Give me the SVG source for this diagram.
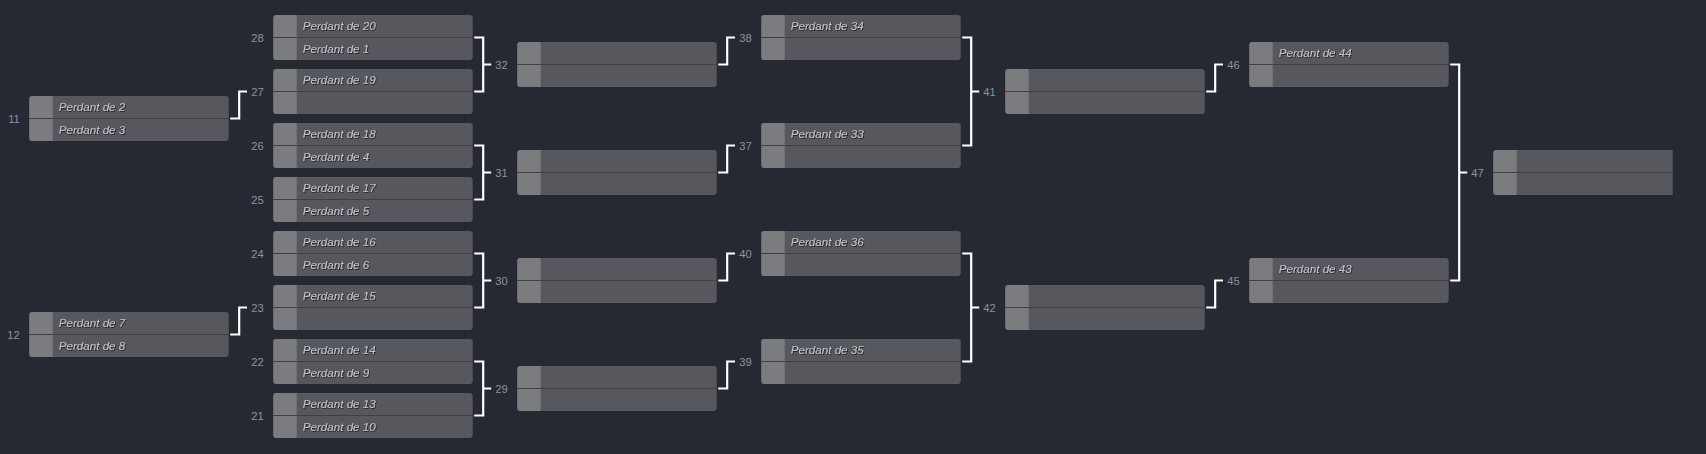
<svg xmlns="http://www.w3.org/2000/svg" xmlns:xlink="http://www.w3.org/1999/xlink" width="1706" height="454" viewBox="0 0 1706 454">
<style>
.p{font-family:"Liberation Sans",Arial,sans-serif;font-style:italic;font-size:11.6px;fill:#c3c3c6;filter:url(#sh)}
.n{font-family:"Liberation Sans",Arial,sans-serif;font-size:11.2px;fill:#8d94a0;text-anchor:end}
.c{fill:none;stroke:#ffffff;stroke-width:2.2}
</style>
<defs>
<filter id="sh" x="-5%" y="-30%" width="115%" height="160%">
<feDropShadow dx="0.8" dy="0.8" stdDeviation="0.3" flood-color="#1b1c20" flood-opacity="1"/>
</filter>
<g id="box">
<rect width="199.4" height="45" rx="3" fill="#57585d"/>
<path d="M3,0H23.4V45H3A3,3 0 0 1 0,42V3A3,3 0 0 1 3,0Z" fill="#7b7c80"/>
<rect y="22" width="199.4" height="1" fill="#3f4046"/>
</g>
<clipPath id="vp"><rect x="0" y="0" width="1672.7" height="454"/></clipPath>
</defs>
<rect width="1706" height="454" fill="#262832"/>

<g id="connectors">
<path class="c" d="M230.2,118.5H239.2V91.5H247"/>
<path class="c" d="M230.2,334.5H239.2V307.5H247"/>
<path class="c" d="M474.2,37.5H483.2V91.5H474.2M483.2,64.5H491.2"/>
<path class="c" d="M474.2,145.5H483.2V199.5H474.2M483.2,172.5H491.2"/>
<path class="c" d="M474.2,253.5H483.2V307.5H474.2M483.2,280.5H491.2"/>
<path class="c" d="M474.2,361.5H483.2V415.5H474.2M483.2,388.5H491.2"/>
<path class="c" d="M718.2,64.5H727.2V37.5H735"/>
<path class="c" d="M718.2,172.5H727.2V145.5H735"/>
<path class="c" d="M718.2,280.5H727.2V253.5H735"/>
<path class="c" d="M718.2,388.5H727.2V361.5H735"/>
<path class="c" d="M962.2,37.5H971.2V145.5H962.2M971.2,91.5H979.2"/>
<path class="c" d="M962.2,253.5H971.2V361.5H962.2M971.2,307.5H979.2"/>
<path class="c" d="M1206.2,91.5H1215.2V64.5H1223"/>
<path class="c" d="M1206.2,307.5H1215.2V280.5H1223"/>
<path class="c" d="M1450.2,64.5H1459.2V280.5H1450.2M1459.2,172.5H1467.2"/>
</g>

<g id="m11" transform="translate(29.3,96)"><use xlink:href="#box"/><text class="n" x="-9.5" y="26.5">11</text><text class="p" x="29.5" y="15">Perdant de 2</text><text class="p" x="29.5" y="37.5">Perdant de 3</text></g>
<g id="m12" transform="translate(29.3,312)"><use xlink:href="#box"/><text class="n" x="-9.5" y="26.5">12</text><text class="p" x="29.5" y="15">Perdant de 7</text><text class="p" x="29.5" y="37.5">Perdant de 8</text></g>

<g id="m28" transform="translate(273.3,15)"><use xlink:href="#box"/><text class="n" x="-9.5" y="26.5">28</text><text class="p" x="29.5" y="15">Perdant de 20</text><text class="p" x="29.5" y="37.5">Perdant de 1</text></g>
<g id="m27" transform="translate(273.3,69)"><use xlink:href="#box"/><text class="n" x="-9.5" y="26.5">27</text><text class="p" x="29.5" y="15">Perdant de 19</text></g>
<g id="m26" transform="translate(273.3,123)"><use xlink:href="#box"/><text class="n" x="-9.5" y="26.5">26</text><text class="p" x="29.5" y="15">Perdant de 18</text><text class="p" x="29.5" y="37.5">Perdant de 4</text></g>
<g id="m25" transform="translate(273.3,177)"><use xlink:href="#box"/><text class="n" x="-9.5" y="26.5">25</text><text class="p" x="29.5" y="15">Perdant de 17</text><text class="p" x="29.5" y="37.5">Perdant de 5</text></g>
<g id="m24" transform="translate(273.3,231)"><use xlink:href="#box"/><text class="n" x="-9.5" y="26.5">24</text><text class="p" x="29.5" y="15">Perdant de 16</text><text class="p" x="29.5" y="37.5">Perdant de 6</text></g>
<g id="m23" transform="translate(273.3,285)"><use xlink:href="#box"/><text class="n" x="-9.5" y="26.5">23</text><text class="p" x="29.5" y="15">Perdant de 15</text></g>
<g id="m22" transform="translate(273.3,339)"><use xlink:href="#box"/><text class="n" x="-9.5" y="26.5">22</text><text class="p" x="29.5" y="15">Perdant de 14</text><text class="p" x="29.5" y="37.5">Perdant de 9</text></g>
<g id="m21" transform="translate(273.3,393)"><use xlink:href="#box"/><text class="n" x="-9.5" y="26.5">21</text><text class="p" x="29.5" y="15">Perdant de 13</text><text class="p" x="29.5" y="37.5">Perdant de 10</text></g>

<g id="m32" transform="translate(517.3,42)"><use xlink:href="#box"/><text class="n" x="-9.5" y="26.5">32</text></g>
<g id="m31" transform="translate(517.3,150)"><use xlink:href="#box"/><text class="n" x="-9.5" y="26.5">31</text></g>
<g id="m30" transform="translate(517.3,258)"><use xlink:href="#box"/><text class="n" x="-9.5" y="26.5">30</text></g>
<g id="m29" transform="translate(517.3,366)"><use xlink:href="#box"/><text class="n" x="-9.5" y="26.5">29</text></g>

<g id="m38" transform="translate(761.3,15)"><use xlink:href="#box"/><text class="n" x="-9.5" y="26.5">38</text><text class="p" x="29.5" y="15">Perdant de 34</text></g>
<g id="m37" transform="translate(761.3,123)"><use xlink:href="#box"/><text class="n" x="-9.5" y="26.5">37</text><text class="p" x="29.5" y="15">Perdant de 33</text></g>
<g id="m40" transform="translate(761.3,231)"><use xlink:href="#box"/><text class="n" x="-9.5" y="26.5">40</text><text class="p" x="29.5" y="15">Perdant de 36</text></g>
<g id="m39" transform="translate(761.3,339)"><use xlink:href="#box"/><text class="n" x="-9.5" y="26.5">39</text><text class="p" x="29.5" y="15">Perdant de 35</text></g>

<g id="m41" transform="translate(1005.3,69)"><use xlink:href="#box"/><text class="n" x="-9.5" y="26.5">41</text></g>
<g id="m42" transform="translate(1005.3,285)"><use xlink:href="#box"/><text class="n" x="-9.5" y="26.5">42</text></g>

<g id="m46" transform="translate(1249.3,42)"><use xlink:href="#box"/><text class="n" x="-9.5" y="26.5">46</text><text class="p" x="29.5" y="15">Perdant de 44</text></g>
<g id="m45" transform="translate(1249.3,258)"><use xlink:href="#box"/><text class="n" x="-9.5" y="26.5">45</text><text class="p" x="29.5" y="15">Perdant de 43</text></g>

<g id="m47" clip-path="url(#vp)"><g transform="translate(1493.3,150)"><use xlink:href="#box"/><text class="n" x="-9.5" y="26.5">47</text></g></g>
</svg>
